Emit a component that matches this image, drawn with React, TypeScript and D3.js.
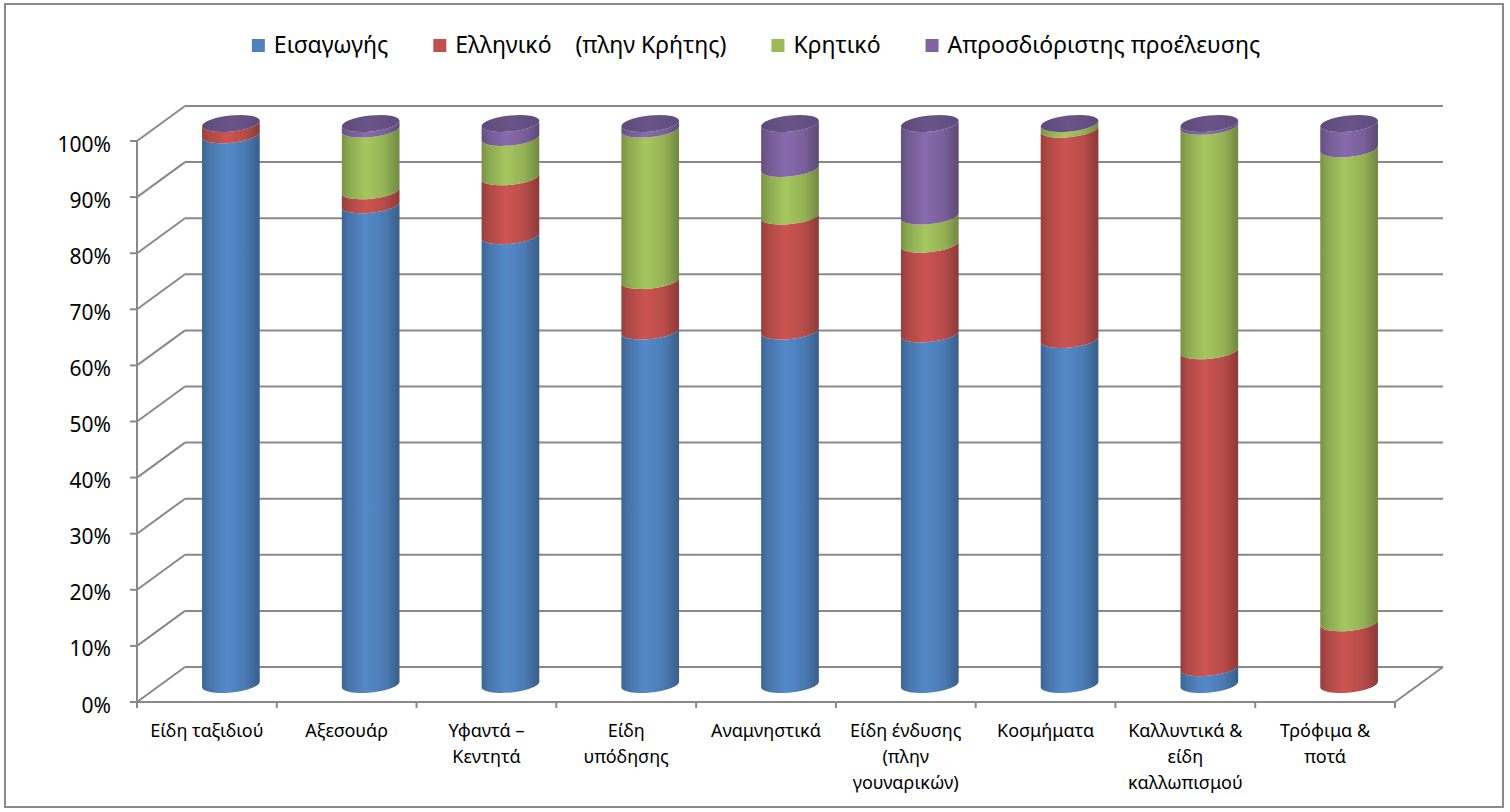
import React, { useEffect, useRef } from 'react';
import * as d3 from 'd3';

// categories (x axis), "\n" = line break as in the original chart
const categories = [
  'Είδη ταξιδιού',
  'Αξεσουάρ',
  'Υφαντά –\nΚεντητά',
  'Είδη\nυπόδησης',
  'Αναμνηστικά',
  'Είδη ένδυσης\n(πλην\nγουναρικών)',
  'Κοσμήματα',
  'Καλλυντικά &\nείδη\nκαλλωπισμού',
  'Τρόφιμα &\nποτά',
];

const seriesNames = ['Εισαγωγής', 'Ελληνικό    (πλην Κρήτης)', 'Κρητικό', 'Απροσδιόριστης προέλευσης'];
const seriesColors = ['#4f81bd', '#c0504d', '#9bbb59', '#8064a2'];

// shares in % per category
const imported = [98, 85.5, 80, 63, 63, 62.5, 61.5, 3, 0];
const greek = [2, 2.5, 10.5, 9, 20.5, 16, 37.5, 56.5, 11];
const cretan = [0, 11, 7, 27, 8.5, 5, 1, 40, 84.5];
const unknown = [0, 1, 2.5, 1, 8, 16.5, 0, 0.5, 4.5];

const yTicks = [0, 10, 20, 30, 40, 50, 60, 70, 80, 90, 100];

export default function App() {
  const ref = useRef<SVGSVGElement>(null);

  useEffect(() => {
    const W = 1510, H = 812;
    const svg = d3.select(ref.current);
    svg.selectAll('*').remove();
    const font = "'Noto Sans', 'DejaVu Sans', sans-serif";
    const grid = '#898989';

    const left = 137, right = 1395;
    const depth = { dx: 48, dy: -35 };
    const x = d3.scaleBand().domain(categories).range([left, right]).paddingInner(0).paddingOuter(0);
    const y = d3.scaleLinear().domain([0, 100]).range([702, 141]);

    // outer frame
    svg.append('rect').attr('x', 5).attr('y', 4).attr('width', 1498).attr('height', 803)
      .attr('fill', 'white').attr('stroke', '#8a8a8a').attr('stroke-width', 2);

    const defs = svg.append('defs');
    seriesColors.forEach((c, i) => {
      const g = defs.append('linearGradient').attr('id', 'cyl' + i).attr('x1', 0).attr('x2', 1).attr('y1', 0).attr('y2', 0);
      const base = d3.color(c)!;
      [[0, base.darker(0.7)], [0.12, base.darker(0.3)], [0.42, base.brighter(0.18)], [0.75, base.darker(0.15)], [1, base.darker(0.9)]]
        .forEach(([o, col]: any) => g.append('stop').attr('offset', o).attr('stop-color', col.formatHex()));
    });
    const capG = defs.append('linearGradient').attr('id', 'cap').attr('x1', 0).attr('x2', 1).attr('y1', 0).attr('y2', 0);
    capG.append('stop').attr('offset', 0).attr('stop-color', '#5d4a7a');
    capG.append('stop').attr('offset', 0.5).attr('stop-color', '#6a5589');
    capG.append('stop').attr('offset', 1).attr('stop-color', '#5e4b7c');

    // back wall gridlines + side wall
    const gw = svg.append('g').attr('stroke', grid).attr('stroke-width', 2).attr('fill', 'none');
    yTicks.forEach(t => {
      const yy = y(t);
      gw.append('line').attr('x1', left + depth.dx).attr('x2', right + depth.dx).attr('y1', yy + depth.dy).attr('y2', yy + depth.dy);
      gw.append('line').attr('x1', left).attr('x2', left + depth.dx).attr('y1', yy).attr('y2', yy + depth.dy);
      gw.append('line').attr('x1', left - 7).attr('x2', left).attr('y1', yy).attr('y2', yy);
    });
    gw.append('line').attr('x1', left).attr('x2', left).attr('y1', y(100)).attr('y2', y(0));
    // floor
    gw.append('line').attr('x1', left).attr('x2', right).attr('y1', y(0)).attr('y2', y(0));
    gw.append('line').attr('x1', right).attr('x2', right + depth.dx).attr('y1', y(0)).attr('y2', y(0) + depth.dy);
    categories.concat(['end']).forEach((c, i) => {
      const xx = i < categories.length ? x(c)! : right;
      gw.append('line').attr('x1', xx).attr('x2', xx).attr('y1', y(0)).attr('y2', y(0) + 6);
    });

    // y labels
    svg.append('g').selectAll('text').data(yTicks).enter().append('text')
      .attr('x', 111).attr('y', d => y(d)).attr('dy', '0.5em')
      .attr('text-anchor', 'end').attr('font-family', font).attr('font-size', 21).attr('fill', '#000')
      .text(d => d + '%');

    // x labels
    const xl = svg.append('g').attr('font-family', font).attr('font-size', 18).attr('fill', '#000').attr('text-anchor', 'middle');
    categories.forEach(c => {
      const t = xl.append('text').attr('x', x(c)! + x.bandwidth() / 2).attr('y', y(0) + 35);
      c.split('\n').forEach((line, k) => {
        t.append('tspan').attr('x', x(c)! + x.bandwidth() / 2).attr('dy', k === 0 ? 0 : 26).text(line);
      });
    });

    // cylinders
    const series = [imported, greek, cretan, unknown];
    const rx = 29, ry = 8, rot = -6;
    const a = (rot * Math.PI) / 180;
    const ex = rx * Math.cos(a), ey = rx * Math.sin(a);
    const cyl = svg.append('g');
    categories.forEach((c, ci) => {
      const cx = x(c)! + x.bandwidth() / 2 + depth.dx / 2;
      let acc = 0;
      series.forEach((s, si) => {
        const v = s[ci];
        if (v <= 0) return;
        const yb = y(acc) + depth.dy / 2;
        const yt = y(acc + v) + depth.dy / 2;
        acc += v;
        const p = `M${cx - ex},${yt - ey} L${cx - ex},${yb - ey} A${rx},${ry} ${rot} 0 0 ${cx + ex},${yb + ey} ` +
          `L${cx + ex},${yt + ey} A${rx},${ry} ${rot} 0 1 ${cx - ex},${yt - ey} Z`;
        cyl.append('path').attr('d', p).attr('fill', `url(#cyl${si})`);
      });
      const yc = y(acc) + depth.dy / 2;
      cyl.append('ellipse').attr('cx', cx).attr('cy', yc).attr('rx', rx).attr('ry', ry)
        .attr('transform', `rotate(${rot},${cx},${yc})`).attr('fill', 'url(#cap)');
    });

    // legend, centred
    const lg = svg.append('g').attr('font-family', font).attr('font-size', 23);
    const items = seriesNames.map((n, i) => {
      const g = lg.append('g');
      g.append('rect').attr('width', 13).attr('height', 13).attr('y', -14).attr('fill', seriesColors[i]);
      const t = g.append('text').attr('x', 22).attr('y', 0).attr('xml:space', 'preserve')
        .style('white-space', 'pre').text(n);
      const w = 22 + (t.node() as SVGTextElement).getComputedTextLength();
      return { g, w };
    });
    const gap = 45;
    const total = d3.sum(items, d => d.w) + gap * (items.length - 1);
    let lx = 756 - total / 2;
    items.forEach(it => { it.g.attr('transform', `translate(${lx},53)`); lx += it.w + gap; });

    svg.attr('width', W).attr('height', H);
  }, []);

  return (
    <div style={{ position: 'fixed', left: 0, top: 0, width: 1510, height: 812, overflow: 'hidden', background: 'white' }}>
      <svg ref={ref} width={1510} height={812} style={{ display: 'block' }} />
    </div>
  );
}
